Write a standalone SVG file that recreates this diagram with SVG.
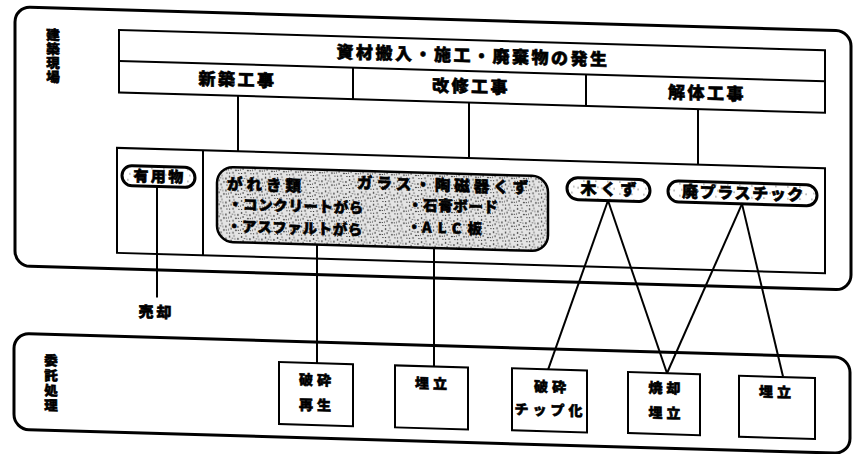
<svg xmlns="http://www.w3.org/2000/svg" width="854" height="454" viewBox="0 0 854 454">
<defs>
<style>
.t{font-family:"Noto Sans CJK JP","Noto Sans CJK SC",sans-serif;font-weight:900;fill:#000;stroke:#000;stroke-width:0.6px}
.h{font-size:17px;letter-spacing:2.5px;text-anchor:middle}
.v{font-size:13.5px;text-anchor:middle}
.g1{font-size:15.5px;letter-spacing:4px}
.g2{font-size:14.5px;letter-spacing:0.6px}
.b{font-size:14px;letter-spacing:4px;text-anchor:middle}
.outer{fill:none;stroke:#000;stroke-width:3}
.box{fill:#fff;stroke:#000;stroke-width:2}
.ln{fill:none;stroke:#000;stroke-width:2}
.pill{stroke:#000;stroke-width:3;fill:url(#light)}
.big{stroke:#000;stroke-width:2.5;fill:url(#stip)}
</style>
<pattern id="stip" width="12" height="12" patternUnits="userSpaceOnUse">
<rect width="12" height="12" fill="#e4e4e4"/>
<circle cx="1.5" cy="2" r="0.8"/>
<circle cx="6" cy="1" r="0.6"/>
<circle cx="10" cy="4" r="0.8"/>
<circle cx="3" cy="6" r="0.7"/>
<circle cx="8" cy="7.5" r="0.8"/>
<circle cx="5" cy="10" r="0.7"/>
<circle cx="11" cy="10.5" r="0.6"/>
<circle cx="1.5" cy="10.5" r="0.6"/>
<circle cx="7" cy="4" r="0.5"/>
<circle cx="4.5" cy="3.5" r="0.5"/>
<circle cx="10.5" cy="7.5" r="0.5"/>
<circle cx="0.5" cy="7" r="0.5"/>
</pattern>
<pattern id="light" width="12" height="12" patternUnits="userSpaceOnUse">
<rect width="12" height="12" fill="#fff"/>
<circle cx="2" cy="3" r="0.6"/>
<circle cx="8" cy="8" r="0.6"/>
<circle cx="10" cy="2" r="0.5"/>
</pattern>
</defs>
<rect width="854" height="454" fill="#fff"/>
<g transform="skewY(1.65)">
  <g id="site-area">
    <rect class="outer" x="15" y="6.5" width="836" height="259" rx="15"/>
    <text class="t v"><tspan x="53" y="38.5">建</tspan><tspan x="53" y="52.5">築</tspan><tspan x="53" y="66.5">現</tspan><tspan x="53" y="80.5">場</tspan></text>
  </g>
  <g id="outsourced-area">
    <rect class="outer" x="14" y="333" width="836" height="96" rx="15"/>
    <text class="t v"><tspan x="51" y="364">委</tspan><tspan x="51" y="379">託</tspan><tspan x="51" y="394">処</tspan><tspan x="51" y="409">理</tspan></text>
  </g>

  <g id="connectors">
    <line class="ln" x1="238" y1="89" x2="238" y2="144.5"/>
    <line class="ln" x1="469" y1="89" x2="469" y2="144"/>
    <line class="ln" x1="698" y1="89" x2="698" y2="144"/>
    <line class="ln" x1="157" y1="182" x2="157" y2="293"/>
    <line class="ln" x1="317" y1="235" x2="317" y2="354"/>
    <line class="ln" x1="434" y1="235" x2="434" y2="354"/>
    <line class="ln" x1="608" y1="183" x2="548" y2="354"/>
    <line class="ln" x1="608" y1="183" x2="667" y2="354"/>
    <line class="ln" x1="742" y1="182.5" x2="667" y2="354"/>
    <line class="ln" x1="742" y1="182.5" x2="783" y2="354"/>
  </g>

  <g id="works">
    <rect class="box" x="119" y="26.5" width="706" height="62.5" fill="none"/>
    <line class="ln" x1="119" y1="57.5" x2="825" y2="57.5"/>
    <line class="ln" x1="353" y1="57.5" x2="353" y2="89"/>
    <line class="ln" x1="586" y1="57.5" x2="586" y2="89"/>
    <text class="t h" x="473" y="48.3">資材搬入・施工・廃棄物の発生</text>
  </g>
  <g id="new-build"><text class="t h" x="237.5" y="79">新築工事</text></g>
  <g id="renovation"><text class="t h" x="471" y="79">改修工事</text></g>
  <g id="demolition"><text class="t h" x="707" y="79">解体工事</text></g>

  <g id="waste-box">
    <rect x="117" y="144.5" width="708" height="105" fill="none" stroke="#000" stroke-width="2"/>
    <line class="ln" x1="203" y1="144.5" x2="203" y2="249.5"/>
  </g>

  <g id="useful">
    <rect class="pill" x="122" y="162" width="73" height="20" rx="10"/>
    <text class="t" x="159.5" y="177.5" font-size="15" letter-spacing="2.3" text-anchor="middle">有用物</text>
  </g>
  <g id="rubble-glass">
    <rect class="big" x="217" y="160.5" width="331" height="75" rx="16"/>
    <text class="t g1" x="227" y="183">がれき類</text>
    <text class="t g1" x="357" y="178">ガラス・陶磁器くず</text>
    <text class="t g2" x="228" y="202.8">・コンクリートがら</text>
    <text class="t g2" x="408" y="198.2">・石膏ボード</text>
    <text class="t g2" x="227" y="224.8">・アスファルトがら</text>
    <text class="t g2" x="407" y="220.4">・<tspan letter-spacing="6">ALC</tspan>板</text>
  </g>
  <g id="wood">
    <rect class="pill" x="567" y="161" width="83" height="22" rx="11"/>
    <text class="t" x="610.5" y="177.5" font-size="16" letter-spacing="4" text-anchor="middle">木くず</text>
  </g>
  <g id="plastic">
    <rect class="pill" x="668" y="161.5" width="149" height="21" rx="10.5"/>
    <text class="t" x="743.5" y="177.5" font-size="16" letter-spacing="1.6" text-anchor="middle">廃プラスチック</text>
  </g>

  <g id="sale"><text class="t" x="156.5" y="313" font-size="15" letter-spacing="3" text-anchor="middle">売却</text></g>

  <g id="crush-recycle">
    <rect class="box" x="279" y="354" width="74" height="62"/>
    <text class="t b" x="317" y="376.2">破砕</text>
    <text class="t b" x="317" y="401.2">再生</text>
  </g>
  <g id="landfill-1">
    <rect class="box" x="395" y="354" width="73" height="62"/>
    <text class="t b" x="433" y="376.2">埋立</text>
  </g>
  <g id="crush-chip">
    <rect class="box" x="512" y="353.5" width="75" height="62"/>
    <text class="t b" x="552" y="376.2">破砕</text>
    <text class="t b" x="550.5" y="399.5" letter-spacing="1.5">チップ化</text>
  </g>
  <g id="incinerate-landfill">
    <rect class="box" x="628" y="354" width="72" height="61"/>
    <text class="t b" x="666.5" y="374">焼却</text>
    <text class="t b" x="666.5" y="399">埋立</text>
  </g>
  <g id="landfill-2">
    <rect class="box" x="739" y="354.5" width="76" height="61"/>
    <text class="t b" x="777" y="375">埋立</text>
  </g>
</g>
</svg>
